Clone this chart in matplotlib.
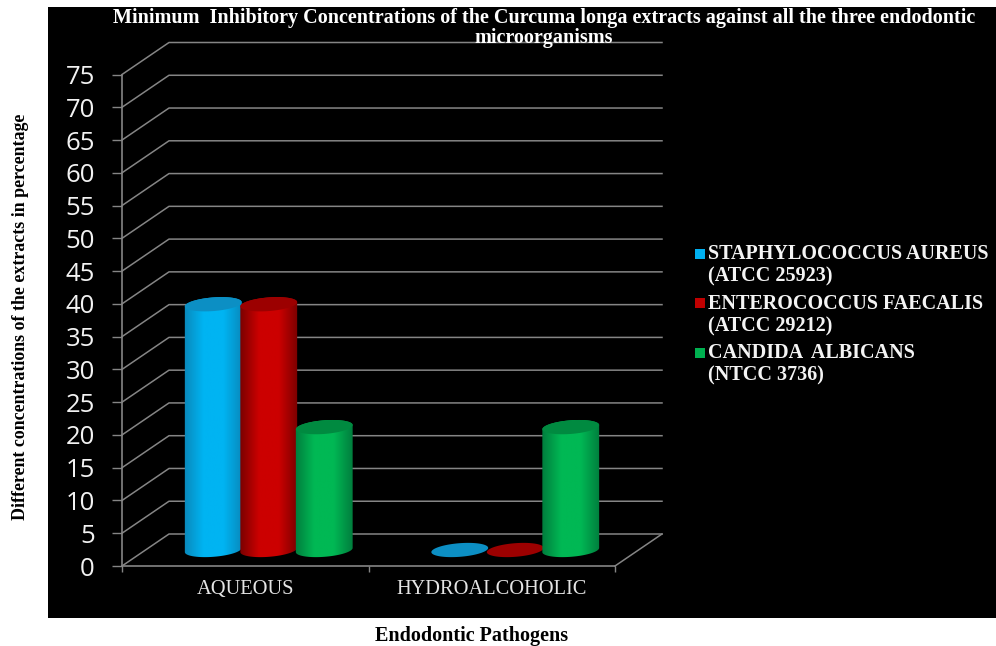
import numpy as np
import matplotlib
matplotlib.use("Agg")
import matplotlib.pyplot as plt
from matplotlib.colors import LinearSegmentedColormap
from matplotlib.legend_handler import HandlerPatch
from matplotlib.patches import Patch, Polygon, Rectangle

categories = ["AQUEOUS", "HYDROALCOHOLIC"]
series_names = ["STAPHYLOCOCCUS AUREUS\n(ATCC 25923)",
                "ENTEROCOCCUS FAECALIS\n(ATCC 29212)",
                "CANDIDA  ALBICANS\n(NTCC 3736)"]
staph_values = [37.5, 0]
entero_values = [37.5, 0]
candida_values = [18.75, 18.75]
y_ticks = list(range(0, 80, 5))

title_text = ("Minimum  Inhibitory Concentrations of the Curcuma longa extracts "
              "against all the three endodontic\nmicroorganisms")
ylabel_text = "Different concentrations of the extracts in percentage"
xlabel_text = "Endodontic Pathogens"

# (edge shade, centre shade, cap shade, legend swatch)
palettes = [("#0a86b8", "#00b4f2", "#0c8fc4", "#00b0f0"),
            ("#760000", "#cc0000", "#9c0000", "#c00000"),
            ("#007a3c", "#00b854", "#008a40", "#00b050")]

W, H = 996, 646
SERIF = "Liberation Serif"
GRID = "#858585"

fig = plt.figure(figsize=(W / 100, H / 100), dpi=100, facecolor="white")
fig.add_artist(Rectangle((48 / W, 1 - 618 / H), (W - 48) / W, 611 / H,
                         transform=fig.transFigure, facecolor="black",
                         edgecolor="none", zorder=-10))

# Front plane of the chart box; the depth is an oblique offset behind it.
left, right, top, bottom = 122, 615, 74.5, 566
ax = fig.add_axes([left / W, 1 - bottom / H, (right - left) / W, (bottom - top) / H])
ax.patch.set_alpha(0)
ax.set_xlim(0, len(categories))
ax.set_ylim(0, 75)
px_x = (right - left) / len(categories)  # pixels per category
px_y = (bottom - top) / 75               # pixels per value unit
depth_x = 47 / px_x
depth_y = 32 / px_y

# Wall and floor lines
for v in y_ticks:
    ax.plot([0, depth_x, 2 + depth_x], [v, v + depth_y, v + depth_y],
            color=GRID, lw=1.1, clip_on=False, zorder=1)
ax.plot([2, 2 + depth_x], [0, depth_y], color=GRID, lw=1.1, clip_on=False, zorder=1)

for name in ("top", "right"):
    ax.spines[name].set_visible(False)
for name in ("left", "bottom"):
    ax.spines[name].set_color(GRID)
    ax.spines[name].set_linewidth(1.2)
    ax.spines[name].set_zorder(2)

ax.set_yticks(y_ticks)
ax.tick_params(axis="y", length=7.5, width=1, color=GRID, pad=12,
               labelcolor="#f2f2f2", labelsize=18.5)
for lab in ax.get_yticklabels():
    lab.set_family("Open Sans")
ax.set_xticks(range(len(categories) + 1))
ax.set_xticklabels([])
ax.tick_params(axis="x", length=4.5, width=1, color=GRID)
for i, cat in enumerate(categories):
    ax.annotate(cat, xy=(i + 0.5, 0), xycoords="data", xytext=(0, -17),
                textcoords="offset points", ha="center", va="center",
                family=SERIF, fontsize=14.7, color="#e4e4e4")


def disc(cx, cy, half_w=28.5, half_h=6.8, tilt=np.radians(4.5), start=0.0, stop=2 * np.pi):
    """Tilted ellipse outline in data units around a point given in data units."""
    t = np.linspace(start, stop, 80)
    u, v = half_w * np.cos(t), half_h * np.sin(t)
    dx = u * np.cos(tilt) - v * np.sin(tilt)
    dy = u * np.sin(tilt) + v * np.cos(tilt)
    return np.column_stack([cx + dx / px_x, cy + dy / px_y])


def cylinder(cx, value, colors):
    edge, mid, cap, _ = colors
    base = depth_y / 2
    if value > 0:
        outline = np.vstack([disc(cx, base + value, start=0, stop=np.pi),
                             disc(cx, base, start=np.pi, stop=2 * np.pi)])
        body = Polygon(outline, closed=True, transform=ax.transData, facecolor="none",
                       edgecolor="none")
        ax.add_patch(body)
        body.set_clip_on(False)
        cmap = LinearSegmentedColormap.from_list("shade", [edge, mid, mid, edge])
        shade = np.linspace(0, 1, 128).reshape(1, -1)
        half = 30 / px_x
        img = ax.imshow(shade, cmap=cmap, aspect="auto", zorder=3,
                        extent=[cx - half, cx + half, 0, base + value + depth_y])
        img.set_clip_path(body)
    ax.add_patch(Polygon(disc(cx, base + value), closed=True, facecolor=cap,
                         edgecolor="none", zorder=3, clip_on=False))


bar_width = 55.5 / px_x
for s, values in enumerate([staph_values, entero_values, candida_values]):
    for c, value in enumerate(values):
        cylinder(c + 0.5 + depth_x / 2 + (s - 1) * bar_width, value, palettes[s])
ax.set_xlim(0, len(categories))
ax.set_ylim(0, 75)

ax.set_title(title_text, x=(544 - left) / (right - left), y=1 + (74.5 - 42.5) / (bottom - top),
             family=SERIF, fontweight="bold", fontsize=14.5, color="white",
             linespacing=1.0, pad=0)
ax.set_ylabel(ylabel_text, family=SERIF, fontweight="bold", fontsize=12.9, color="black")
ax.yaxis.set_label_coords((29 - left) / (right - left), (bottom - 316.5) / (bottom - top))
ax.set_xlabel(xlabel_text, family=SERIF, fontweight="bold", fontsize=14.5, color="black")
ax.xaxis.set_label_coords((472 - left) / (right - left), -(636 - bottom) / (bottom - top))
ax.xaxis.label.set_verticalalignment("center")


class UpperSwatch(HandlerPatch):
    """Square key aligned with the first line of a two-line entry."""

    def create_artists(self, legend, orig_handle, xdescent, ydescent, width, height,
                       fontsize, trans):
        size = 7.2
        rect = Rectangle((width - size, 10.0), size, size,
                         facecolor=orig_handle.get_facecolor(), edgecolor="none",
                         transform=trans)
        return [rect]


handles = [Patch(facecolor=p[3]) for p in palettes]
legend = ax.legend(handles, series_names, loc="upper left",
                   bbox_to_anchor=(0, 1), bbox_transform=fig.transFigure,
                   frameon=False, handler_map={Patch: UpperSwatch()},
                   prop={"family": SERIF, "weight": "bold", "size": 14.5},
                   handlelength=0.5, handletextpad=0.15, labelspacing=0.35,
                   borderpad=0, borderaxespad=0)
legend.set_bbox_to_anchor((695 / W, 1 - 244 / H), transform=fig.transFigure)
for text in legend.get_texts():
    text.set_color("#f4f4f4")
    text.set_linespacing(1.17)

fig.savefig("out.png", dpi=100, facecolor="white")
